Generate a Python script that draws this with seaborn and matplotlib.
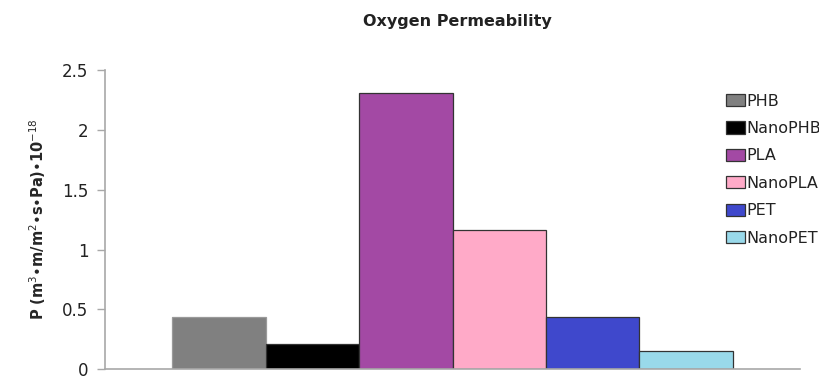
import matplotlib
matplotlib.use("Agg")
import matplotlib.pyplot as plt
import seaborn as sns
import pandas as pd

materials = ["PHB", "NanoPHB", "PLA", "NanoPLA", "PET", "NanoPET"]
permeability = [0.44, 0.21, 2.31, 1.16, 0.44, 0.15]
bar_colors = ["#808080", "#000000", "#A349A4", "#FFAAC8", "#3F48CC", "#99D9EA"]
y_ticks = [0, 0.5, 1, 1.5, 2, 2.5]
y_tick_labels = ["0", "0.5", "1", "1.5", "2", "2.5"]

df = pd.DataFrame({"group": [""] * len(materials),
                   "material": materials,
                   "value": permeability})

sns.set_theme(style="white")
plt.rcParams["font.family"] = ["DejaVu Sans"]

fig = plt.figure(figsize=(8.2, 3.79), dpi=100)
ax = fig.add_axes([0.128, 0.026, 0.848, 0.789])

sns.barplot(data=df, x="group", y="value", hue="material",
            palette=bar_colors, hue_order=materials, width=0.806,
            saturation=1, edgecolor="#333333", linewidth=0.9, ax=ax,
            legend=True)
# the grey bar has a soft edge
ax.patches[0].set_edgecolor("#9a9a9a")

ax.set_ylim(0, 2.5)
ax.set_xlim(-0.5, 0.5)
ax.set_yticks(y_ticks)
ax.set_yticklabels(y_tick_labels, fontsize=12, color="#222222")
ax.set_xticks([])
ax.set_xlabel("")
ax.set_ylabel(r"P (m$^{3}$•m/m$^{2}$•s•Pa)•10$^{-18}$", fontsize=10.5,
              fontweight="bold", labelpad=10)

for side in ["top", "right"]:
    ax.spines[side].set_visible(False)
for side in ["left", "bottom"]:
    ax.spines[side].set_color("#a8a8a8")
    ax.spines[side].set_linewidth(1.2)
ax.tick_params(axis="y", which="both", left=True, length=6, width=1,
               color="#a8a8a8", pad=6)

fig.text(0.558, 0.942, "Oxygen Permeability", ha="center", va="center",
         fontsize=11.5, fontweight="bold", color="#222222")

leg = ax.legend(loc="upper left", bbox_to_anchor=(0.884, 0.943), frameon=False,
                fontsize=11.5, handlelength=1.2, handleheight=0.8,
                handletextpad=0.1, labelspacing=0.78, borderaxespad=0)
for t in leg.get_texts():
    t.set_color("#222222")

fig.savefig("out.png", dpi=100)
